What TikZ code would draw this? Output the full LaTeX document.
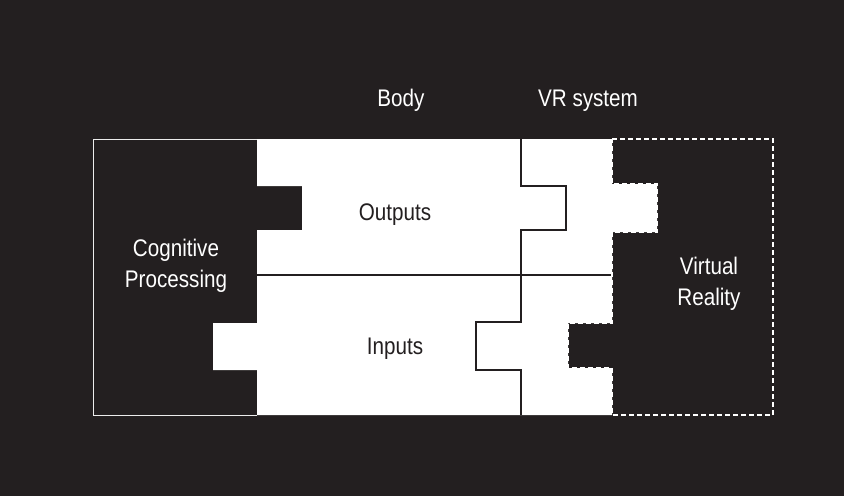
\documentclass[tikz,border=0pt]{standalone}
\usepackage{fontspec}
\setmainfont{Liberation Sans}[FakeStretch=0.86]
\definecolor{ink}{HTML}{231F20}
\begin{document}
\begin{tikzpicture}[x=1pt,y=-1pt,
  lbl/.style={font=\fontsize{24}{31}\selectfont, inner sep=0pt, align=center},
  onblack/.style={lbl, text=white},
  onwhite/.style={lbl, text=ink},
  divider/.style={draw=ink, line width=2pt},
  vredge/.style={draw=white, line width=1.2pt, dash pattern=on 5pt off 3pt}]
% backdrop
\fill[ink] (0,0) rectangle (844,496);
\useasboundingbox (0,0) rectangle (844,496);

% cognitive processing frame (open on the body side)
\draw[white!85!gray, line width=1pt] (257,139) -- (93,139) -- (93,415) -- (257,415);

% body + VR system area
\fill[white] (257,139) -- (612,139) -- (612,184) -- (657,184) -- (657,232)
  -- (612,232) -- (612,323) -- (568,323) -- (568,368) -- (612,368)
  -- (612,415) -- (257,415) -- (257,370) -- (213,370) -- (213,323)
  -- (257,323) -- (257,230) -- (302,230) -- (302,186) -- (257,186) -- cycle;

% outputs / inputs split
\coordinate (midL) at (257,275);
\coordinate (midR) at (612,275);
\draw[divider] (midL) -- (midR);

% body / VR system border
\coordinate (bTop) at (521,139);
\coordinate (bBot) at (521,415);
\draw[divider] (bTop) -- (521,186) -- (566,186) -- (566,230) -- (521,230)
  -- (521,322) -- (476,322) -- (476,370) -- (521,370) -- (bBot);

% virtual reality outline
\draw[vredge] (612,139) -- (773,139) -- (773,415) -- (612,415) -- (612,368)
  -- (568,368) -- (568,323) -- (612,323) -- (612,232) -- (657,232)
  -- (657,184) -- (612,184) -- cycle;

% labels
\node[onblack, anchor=base] (body) at (401,106) {Body};
\node[onblack, anchor=base] (vrsys) at (588,106) {VR system};
\node[onwhite, anchor=base] (out) at (395,220) {Outputs};
\node[onwhite, anchor=base] (in) at (395,354) {Inputs};
\node[onblack] (cog) at (176,266) {Cognitive\\Processing};
\node[onblack] (vr) at (709,284) {Virtual\\Reality};
\end{tikzpicture}
\end{document}
